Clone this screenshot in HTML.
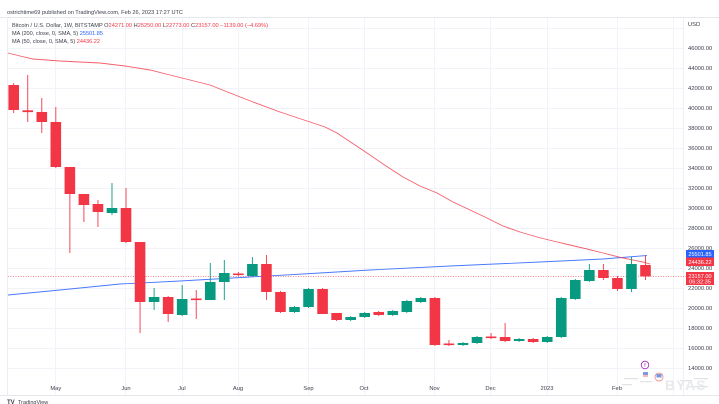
<!DOCTYPE html>
<html><head><meta charset="utf-8"><style>
html,body{margin:0;padding:0;background:#fff;width:719px;height:404px;overflow:hidden}
svg{display:block}
text{font-family:"Liberation Sans",sans-serif}
</style></head><body>
<svg width="719" height="404" viewBox="0 0 719 404" xmlns="http://www.w3.org/2000/svg">
<rect width="719" height="404" fill="#fff"/>
<!-- frame -->
<line x1="0" y1="17.5" x2="719" y2="17.5" stroke="#e6e8ee" stroke-width="1"/>
<line x1="7.5" y1="17.5" x2="7.5" y2="395" stroke="#eceef2" stroke-width="1"/>
<line x1="0" y1="395.5" x2="719" y2="395.5" stroke="#e6e8ee" stroke-width="1"/>
<line x1="683.5" y1="17.5" x2="683.5" y2="395" stroke="#f0f1f4" stroke-width="1"/>
<!-- horizontal grid -->
<g stroke="#f1f3f8" stroke-width="1">
<line x1="8" y1="28.5" x2="683" y2="28.5"/><line x1="8" y1="48.5" x2="683" y2="48.5"/><line x1="8" y1="68.5" x2="683" y2="68.5"/><line x1="8" y1="88.5" x2="683" y2="88.5"/><line x1="8" y1="108.5" x2="683" y2="108.5"/><line x1="8" y1="128.5" x2="683" y2="128.5"/><line x1="8" y1="148.5" x2="683" y2="148.5"/><line x1="8" y1="168.5" x2="683" y2="168.5"/><line x1="8" y1="188.5" x2="683" y2="188.5"/><line x1="8" y1="208.5" x2="683" y2="208.5"/><line x1="8" y1="228.5" x2="683" y2="228.5"/><line x1="8" y1="248.5" x2="683" y2="248.5"/><line x1="8" y1="268.5" x2="683" y2="268.5"/><line x1="8" y1="288.5" x2="683" y2="288.5"/><line x1="8" y1="308.5" x2="683" y2="308.5"/><line x1="8" y1="328.5" x2="683" y2="328.5"/><line x1="8" y1="348.5" x2="683" y2="348.5"/><line x1="8" y1="368.5" x2="683" y2="368.5"/>
</g>
<!-- vertical grid -->
<g stroke="#f1f3f8" stroke-width="1">
<line x1="55.5" y1="18" x2="55.5" y2="395"/><line x1="125.5" y1="18" x2="125.5" y2="395"/><line x1="182.5" y1="18" x2="182.5" y2="395"/><line x1="238.5" y1="18" x2="238.5" y2="395"/><line x1="308.5" y1="18" x2="308.5" y2="395"/><line x1="364.5" y1="18" x2="364.5" y2="395"/><line x1="434.5" y1="18" x2="434.5" y2="395"/><line x1="490.5" y1="18" x2="490.5" y2="395"/><line x1="547.5" y1="18" x2="547.5" y2="395"/><line x1="617.5" y1="18" x2="617.5" y2="395"/><line x1="673.5" y1="18" x2="673.5" y2="395"/>
</g>
<!-- header text -->
<text x="7" y="14" font-size="5.5" fill="#3a3e48" textLength="176" lengthAdjust="spacingAndGlyphs">ostrichtime69 published on TradingView.com, Feb 26, 2023 17:27 UTC</text>
<text x="12" y="27" font-size="5.5" fill="#3a3e48" textLength="256" lengthAdjust="spacingAndGlyphs">Bitcoin / U.S. Dollar, 1W, BITSTAMP  O<tspan fill="#f23645">24271.00</tspan>  H<tspan fill="#f23645">25250.00</tspan>  L<tspan fill="#f23645">22773.00</tspan>  C<tspan fill="#f23645">23157.00  −1139.00 (−4.69%)</tspan></text>
<text x="12" y="35" font-size="5.5" fill="#3a3e48" textLength="91" lengthAdjust="spacingAndGlyphs">MA (200, close, 0, SMA, 5)  <tspan fill="#2962ff">25501.85</tspan></text>
<text x="12" y="43" font-size="5.5" fill="#3a3e48" textLength="88" lengthAdjust="spacingAndGlyphs">MA (50, close, 0, SMA, 5)  <tspan fill="#f23645">24436.22</tspan></text>
<!-- price axis labels -->
<g font-size="5.8" fill="#3a3e48">
<text x="688" y="26">USD</text>
<text x="688" y="50">46000.00</text><text x="688" y="70">44000.00</text><text x="688" y="90">42000.00</text><text x="688" y="110">40000.00</text><text x="688" y="130">38000.00</text><text x="688" y="150">36000.00</text><text x="688" y="170">34000.00</text><text x="688" y="190">32000.00</text><text x="688" y="210">30000.00</text><text x="688" y="230">28000.00</text><text x="688" y="250">26000.00</text><text x="688" y="270">24000.00</text><text x="688" y="290">22000.00</text><text x="688" y="310">20000.00</text><text x="688" y="330">18000.00</text><text x="688" y="350">16000.00</text><text x="688" y="370">14000.00</text>
</g>
<!-- time axis labels -->
<g font-size="5.8" fill="#3a3e48" text-anchor="middle">
<text x="55.8" y="390">May</text><text x="126" y="390">Jun</text><text x="182" y="390">Jul</text><text x="238" y="390">Aug</text><text x="308.5" y="390">Sep</text><text x="364" y="390">Oct</text><text x="434.5" y="390">Nov</text><text x="490.5" y="390">Dec</text><text x="547" y="390">2023</text><text x="617" y="390">Feb</text>
</g>
<!-- current price dotted line -->
<line x1="8" y1="276.4" x2="686" y2="276.4" stroke="#f23645" stroke-width="0.8" stroke-dasharray="1,1.5" opacity="0.8"/>
<!-- MA200 -->
<polyline fill="none" stroke="#2962ff" stroke-width="0.9" opacity="0.85" points="8,295 60,290 120,284 180,281 250,277 320,273 370,270 450,266 540,262 603,259 647,255.5"/>
<!-- MA50 -->
<polyline fill="none" stroke="#f23645" stroke-width="0.9" opacity="0.8" points="8,53 20,56 33,59 60,61 100,63 125,66 150,70 170,75 190,80 210,85 230,93 253,102 280,112 310,122 325,127 337,133 352,143 370,155 386,166 403,177 420,186 437,193 453,202 470,210 487,218 503,226 520,232 537,237 553,241 570,245 587,249 603,253 623,258 643,262 650,264"/>
<!-- candles -->
<g id="red" fill="#f23645" stroke="#f23645" stroke-width="0.9">
<line x1="13.7" y1="83" x2="13.7" y2="113"/><rect x="8.4" y="85" width="10.6" height="25" stroke="none"/>
<line x1="27.74" y1="75" x2="27.74" y2="122"/><rect x="22.44" y="110.3" width="10.6" height="1.8" stroke="none"/>
<line x1="41.78" y1="98" x2="41.78" y2="133"/><rect x="36.48" y="112" width="10.6" height="10" stroke="none"/>
<line x1="55.82" y1="107" x2="55.82" y2="168"/><rect x="50.52" y="122" width="10.6" height="45" stroke="none"/>
<line x1="69.86" y1="167" x2="69.86" y2="253"/><rect x="64.56" y="167" width="10.6" height="27" stroke="none"/>
<line x1="83.9" y1="194" x2="83.9" y2="222"/><rect x="78.6" y="194" width="10.6" height="11" stroke="none"/>
<line x1="97.94" y1="200" x2="97.94" y2="227"/><rect x="92.64" y="204" width="10.6" height="8" stroke="none"/>
<line x1="126.02" y1="188" x2="126.02" y2="243"/><rect x="120.72" y="208" width="10.6" height="34" stroke="none"/>
<line x1="140.06" y1="242" x2="140.06" y2="333"/><rect x="134.76" y="242" width="10.6" height="60" stroke="none"/>
<line x1="168.14" y1="296" x2="168.14" y2="322"/><rect x="162.84" y="297" width="10.6" height="17" stroke="none"/>
<line x1="196.22" y1="290" x2="196.22" y2="319"/><rect x="190.92" y="298.5" width="10.6" height="1.6" stroke="none"/>
<line x1="238.34" y1="272" x2="238.34" y2="276"/><rect x="233.04" y="273.5" width="10.6" height="1.6" stroke="none"/>
<line x1="266.42" y1="255" x2="266.42" y2="300"/><rect x="261.12" y="264" width="10.6" height="28" stroke="none"/>
<line x1="280.46" y1="291" x2="280.46" y2="313"/><rect x="275.16" y="292" width="10.6" height="20" stroke="none"/>
<line x1="322.58" y1="288" x2="322.58" y2="314"/><rect x="317.28" y="289" width="10.6" height="25" stroke="none"/>
<line x1="336.62" y1="313" x2="336.62" y2="321"/><rect x="331.32" y="313" width="10.6" height="7" stroke="none"/>
<line x1="378.74" y1="311" x2="378.74" y2="316"/><rect x="373.44" y="312" width="10.6" height="3" stroke="none"/>
<line x1="434.9" y1="297" x2="434.9" y2="346"/><rect x="429.6" y="298" width="10.6" height="47" stroke="none"/>
<line x1="448.94" y1="340" x2="448.94" y2="346"/><rect x="443.64" y="343.5" width="10.6" height="1.6" stroke="none"/>
<line x1="491.06" y1="333" x2="491.06" y2="339"/><rect x="485.76" y="336.5" width="10.6" height="1.6" stroke="none"/>
<line x1="505.1" y1="323" x2="505.1" y2="342"/><rect x="499.8" y="337" width="10.6" height="4" stroke="none"/>
<line x1="533.18" y1="338" x2="533.18" y2="343"/><rect x="527.88" y="339" width="10.6" height="3" stroke="none"/>
<line x1="603.38" y1="264" x2="603.38" y2="280"/><rect x="598.08" y="270" width="10.6" height="8" stroke="none"/>
<line x1="617.42" y1="276" x2="617.42" y2="291"/><rect x="612.12" y="278" width="10.6" height="11" stroke="none"/>
<line x1="645.5" y1="255.5" x2="645.5" y2="280"/><rect x="640.2" y="265" width="10.6" height="11.4" stroke="none"/>
</g>
<g id="green" fill="#089981" stroke="#089981" stroke-width="0.9">
<line x1="111.98" y1="183" x2="111.98" y2="215"/><rect x="106.68" y="208" width="10.6" height="5" stroke="none"/>
<line x1="154.1" y1="288" x2="154.1" y2="310"/><rect x="148.8" y="297" width="10.6" height="5" stroke="none"/>
<line x1="182.18" y1="285" x2="182.18" y2="316"/><rect x="176.88" y="299" width="10.6" height="16" stroke="none"/>
<line x1="210.26" y1="263" x2="210.26" y2="300"/><rect x="204.96" y="282" width="10.6" height="18" stroke="none"/>
<line x1="224.3" y1="260" x2="224.3" y2="300"/><rect x="219" y="273" width="10.6" height="9" stroke="none"/>
<line x1="252.38" y1="257" x2="252.38" y2="277"/><rect x="247.08" y="264" width="10.6" height="12" stroke="none"/>
<line x1="294.5" y1="306" x2="294.5" y2="313"/><rect x="289.2" y="307" width="10.6" height="5" stroke="none"/>
<line x1="308.54" y1="288" x2="308.54" y2="308"/><rect x="303.24" y="289" width="10.6" height="18" stroke="none"/>
<line x1="350.66" y1="316" x2="350.66" y2="321"/><rect x="345.36" y="317" width="10.6" height="3" stroke="none"/>
<line x1="364.7" y1="312" x2="364.7" y2="318"/><rect x="359.4" y="313" width="10.6" height="4" stroke="none"/>
<line x1="392.78" y1="310" x2="392.78" y2="316"/><rect x="387.48" y="311" width="10.6" height="4" stroke="none"/>
<line x1="406.82" y1="300" x2="406.82" y2="313"/><rect x="401.52" y="301" width="10.6" height="11" stroke="none"/>
<line x1="420.86" y1="297" x2="420.86" y2="303"/><rect x="415.56" y="298" width="10.6" height="4" stroke="none"/>
<line x1="462.98" y1="342" x2="462.98" y2="346"/><rect x="457.68" y="343" width="10.6" height="2" stroke="none"/>
<line x1="477.02" y1="336" x2="477.02" y2="344"/><rect x="471.72" y="337" width="10.6" height="6" stroke="none"/>
<line x1="519.14" y1="338" x2="519.14" y2="342"/><rect x="513.84" y="339" width="10.6" height="2" stroke="none"/>
<line x1="547.22" y1="336" x2="547.22" y2="343"/><rect x="541.92" y="337" width="10.6" height="5" stroke="none"/>
<line x1="561.26" y1="297" x2="561.26" y2="338"/><rect x="555.96" y="298" width="10.6" height="39" stroke="none"/>
<line x1="575.3" y1="279" x2="575.3" y2="300"/><rect x="570" y="280" width="10.6" height="19" stroke="none"/>
<line x1="589.34" y1="264" x2="589.34" y2="282"/><rect x="584.04" y="270" width="10.6" height="11" stroke="none"/>
<line x1="631.46" y1="257" x2="631.46" y2="292"/><rect x="626.16" y="264" width="10.6" height="25" stroke="none"/>
</g>
<!-- price labels -->
<rect x="686" y="250" width="28" height="7.5" fill="#2962ff"/>
<text x="700" y="255.8" font-size="5.6" fill="#fff" text-anchor="middle">25501.85</text>
<rect x="686" y="257.5" width="28" height="8.5" fill="#f23645"/>
<text x="700" y="263.8" font-size="5.6" fill="#fff" text-anchor="middle">24436.22</text>
<rect x="686" y="272" width="28" height="13" fill="#f23645"/>
<text x="700" y="277.8" font-size="5.6" fill="#fff" text-anchor="middle">23157.00</text>
<text x="700" y="283.6" font-size="5.6" fill="#fff" text-anchor="middle">06:32:35</text>
<!-- bottom right icons / watermark -->
<circle cx="645" cy="365" r="3.8" fill="#fff" stroke="#9c27b0" stroke-width="0.8"/>
<text x="645" y="367" font-size="5" fill="#9c27b0" text-anchor="middle">f</text>
<rect x="643" y="372" width="5" height="3" fill="#4a6cd4" opacity="0.7"/>
<rect x="643" y="375.5" width="5" height="1" fill="#e53935" opacity="0.7"/>
<circle cx="659" cy="377" r="4" fill="none" stroke="#e53935" stroke-width="0.7" opacity="0.7"/>
<rect x="656.5" y="374" width="5" height="3.5" fill="#3d6fd1" opacity="0.7"/>
<g fill="#d9dbe0" opacity="0.8">
<rect x="624" y="378" width="14" height="1.2"/><rect x="640" y="381" width="12" height="1.2"/><rect x="622" y="384" width="10" height="1.2"/>
<rect x="680" y="380" width="12" height="1.2"/><rect x="694" y="378" width="14" height="1.2"/><rect x="694" y="386" width="14" height="1.2"/>
</g>
<text x="665" y="390" font-size="14" fill="#e8e9ec" font-weight="bold" letter-spacing="1">BYAS</text>
<!-- tradingview logo -->
<text x="7" y="404" font-size="6" fill="#3a3e48" font-weight="bold">TV</text>
<text x="18" y="404" font-size="5.5" fill="#3a3e48">TradingView</text>
</svg>
</body></html>
